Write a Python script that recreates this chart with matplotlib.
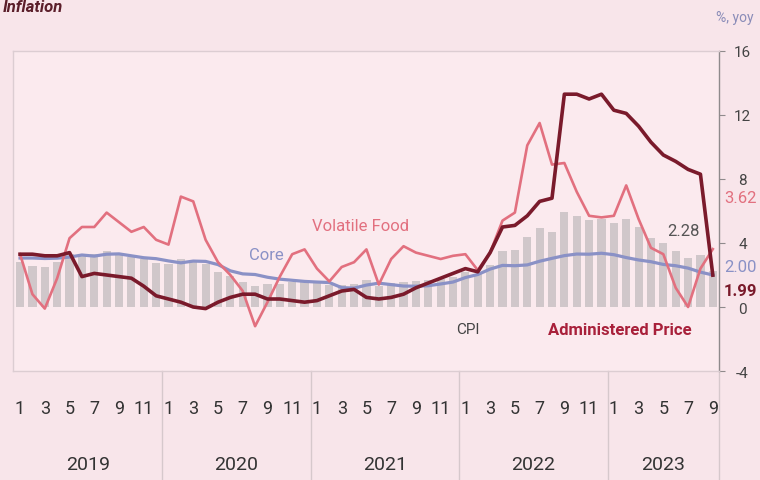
import numpy as np
import matplotlib
matplotlib.use('Agg')
import matplotlib.pyplot as plt
import matplotlib.transforms as mtransforms
from matplotlib import font_manager

# monthly yoy inflation, Jan 2019 - Sep 2023
years = ['2019', '2020', '2021', '2022', '2023']
months_per_year = [12, 12, 12, 12, 9]

cpi = [2.82, 2.57, 2.48, 2.83, 3.32, 3.28, 3.32, 3.49, 3.39, 3.13, 3.00, 2.72,
       2.68, 2.98, 2.96, 2.67, 2.19, 1.96, 1.54, 1.32, 1.42, 1.44, 1.59, 1.68,
       1.55, 1.38, 1.37, 1.42, 1.68, 1.33, 1.52, 1.59, 1.60, 1.66, 1.75, 1.87,
       2.18, 2.06, 2.64, 3.47, 3.55, 4.35, 4.94, 4.69, 5.95, 5.71, 5.42, 5.51,
       5.28, 5.47, 4.97, 4.33, 4.00, 3.52, 3.08, 3.27, 2.28]

core = [3.06, 3.06, 3.03, 3.05, 3.12, 3.25, 3.18, 3.30, 3.32, 3.20, 3.08, 3.02,
        2.88, 2.76, 2.87, 2.85, 2.65, 2.26, 2.07, 2.03, 1.86, 1.74, 1.67, 1.60,
        1.56, 1.53, 1.21, 1.18, 1.37, 1.49, 1.40, 1.31, 1.30, 1.33, 1.44, 1.56,
        1.84, 2.03, 2.37, 2.60, 2.58, 2.63, 2.86, 3.04, 3.21, 3.31, 3.30, 3.36,
        3.27, 3.09, 2.94, 2.83, 2.66, 2.58, 2.43, 2.18, 2.00]

volatile_food = [3.3, 0.8, -0.1, 1.8, 4.3, 5.0, 5.0, 5.9, 5.3, 4.7, 5.0, 4.2,
                 3.9, 6.9, 6.6, 4.2, 2.8, 2.0, 1.0, -1.2, 0.3, 1.9, 3.3, 3.6,
                 2.4, 1.6, 2.5, 2.8, 3.6, 1.4, 3.0, 3.8, 3.4, 3.2, 3.0, 3.2,
                 3.3, 2.3, 3.4, 5.4, 5.9, 10.1, 11.5, 8.9, 9.0, 7.2, 5.7, 5.6,
                 5.7, 7.6, 5.5, 3.7, 3.3, 1.2, 0.0, 2.4, 3.62]

admin_price = [3.3, 3.3, 3.2, 3.2, 3.4, 1.9, 2.1, 2.0, 1.9, 1.8, 1.3, 0.7,
               0.5, 0.3, 0.0, -0.1, 0.3, 0.6, 0.8, 0.8, 0.5, 0.5, 0.4, 0.3,
               0.4, 0.7, 1.0, 1.1, 0.6, 0.5, 0.6, 0.8, 1.2, 1.5, 1.8, 2.1,
               2.4, 2.2, 3.4, 5.0, 5.1, 5.7, 6.6, 6.8, 13.3, 13.3, 13.0, 13.3,
               12.3, 12.1, 11.3, 10.3, 9.5, 9.1, 8.6, 8.3, 1.99]

y_ticks = [-4, 0, 4, 8, 12, 16]

names = {f.name for f in font_manager.fontManager.ttflist}
FONT = 'Liberation Sans Narrow' if 'Liberation Sans Narrow' in names else 'Roboto'
plt.rcParams['font.family'] = [FONT, 'DejaVu Sans']

BG = '#f8e5ea'
C_CORE = '#8a91c6'
C_VF = '#e2707f'
C_AP = '#7a1a2b'
C_BAR = '#d0c7ca'

fig = plt.figure(figsize=(7.6, 4.81), dpi=100, facecolor=BG)
ax = fig.add_axes([13 / 760, 1 - 372 / 481, 706 / 760, 320 / 481])
ax.set_facecolor('#fbeaee')

x = np.arange(len(cpi))
ax.bar(x, cpi, width=0.66, color=C_BAR, zorder=1)
ax.plot(x, core, color=C_CORE, lw=2.3, zorder=2)
ax.plot(x, volatile_food, color=C_VF, lw=1.9, zorder=3)
ax.plot(x, admin_price, color=C_AP, lw=2.6, zorder=4)

ax.set_xlim(-0.57, 56.5)
ax.set_ylim(-4, 16)
ax.set_xticks([])
ax.yaxis.tick_right()
ax.set_yticks(y_ticks)
ax.set_yticklabels([str(t) for t in y_ticks])
ax.tick_params(axis='y', direction='out', length=4, width=0.8, color='#8f8a8c',
               pad=13, labelsize=11, labelcolor='#444444')
for lab in ax.get_yticklabels():
    lab.set_horizontalalignment('center')

for side in ['top', 'bottom', 'left']:
    ax.spines[side].set_color('#dccdd2')
    ax.spines[side].set_linewidth(1)
ax.spines['right'].set_color('#8f8a8c')
ax.spines['right'].set_linewidth(1)

# month / year axis below the plot
trans = mtransforms.blended_transform_factory(ax.transData, ax.transAxes)
start = 0
for yr, n in zip(years, months_per_year):
    for m in range(0, n, 2):
        ax.text(start + m, -0.115, str(m + 1), transform=trans, ha='center',
                va='center', fontsize=13, color='#333333')
    end = start + n - 0.5
    ax.text((start - 0.5 + min(end, 56.5)) / 2, -0.29, yr, transform=trans,
            ha='center', va='center', fontsize=14, color='#333333')
    ax.plot([end, end], [0, -0.36], transform=trans, clip_on=False,
            color='#d6c8cc', lw=1)
    start += n

# series labels
ax.text(27.5, 5.1, 'Volatile Food', color=C_VF, fontsize=12, ha='center', va='center')
ax.text(19.9, 3.25, 'Core', color=C_CORE, fontsize=12, ha='center', va='center')
ax.text(36.2, -1.4, 'CPI', color='#444444', fontsize=11, ha='center', va='center')
ax.text(48.5, -1.4, 'Administered Price', color='#a8203a', fontsize=12,
        fontweight='bold', ha='center', va='center')
ax.text(53.6, 4.8, f'{cpi[-1]:.2f}', color='#555555', fontsize=12, ha='center', va='center')

# last values at the right axis
trans_r = mtransforms.blended_transform_factory(ax.transAxes, ax.transData)
ax.text(1.031, 6.85, f'{volatile_food[-1]:.2f}', transform=trans_r, color=C_VF,
        fontsize=12, ha='center', va='center')
ax.text(1.031, 2.55, f'{core[-1]:.2f}', transform=trans_r, color=C_CORE,
        fontsize=12, ha='center', va='center')
ax.text(1.031, 1.0, f'{admin_price[-1]:.2f}', transform=trans_r, color=C_AP,
        fontsize=12, fontweight='bold', ha='center', va='center')

fig.text(735 / 760, 1 - 18 / 481, '%, yoy', color='#8a8cb8', fontsize=10,
         ha='center', va='center')
fig.text(3 / 760, 1 - 12 / 481, 'Inflation', color='#5b1e2a', fontsize=12,
         fontweight='bold', fontstyle='italic', va='baseline')

fig.savefig('out.png', dpi=100, facecolor=BG)
